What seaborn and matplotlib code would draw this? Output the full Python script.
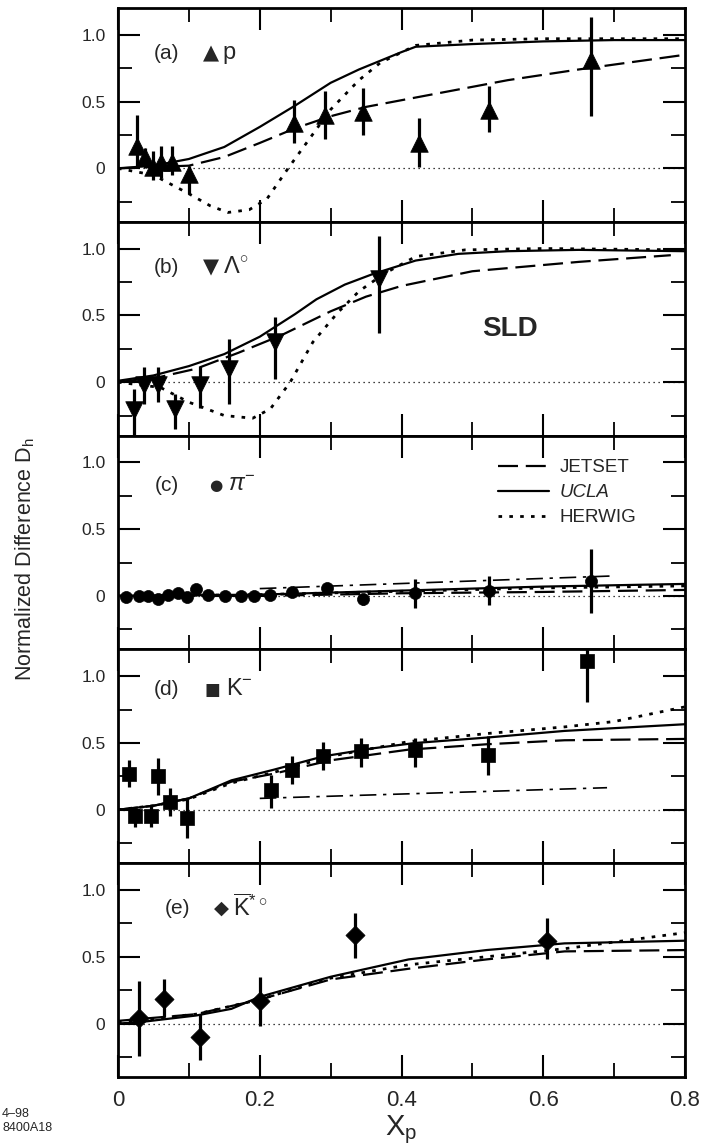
import numpy as np
import pandas as pd
import matplotlib
matplotlib.use("Agg")
import matplotlib.pyplot as plt
import seaborn as sns
from matplotlib.ticker import FixedLocator, MultipleLocator
from matplotlib.lines import Line2D

# ---------------- data ----------------
# panel (a) protons
a_x = [0.027, 0.038, 0.049, 0.060, 0.076, 0.100, 0.249, 0.292, 0.346, 0.425, 0.524, 0.667]
a_y = [0.17, 0.085, 0.01, 0.05, 0.05, -0.04, 0.34, 0.40, 0.425, 0.19, 0.44, 0.81]
a_hi = [0.40, 0.15, 0.13, 0.17, 0.17, 0.02, 0.51, 0.58, 0.60, 0.38, 0.62, 1.13]
a_lo = [0.00, 0.00, -0.09, -0.07, -0.05, -0.19, 0.19, 0.22, 0.25, 0.01, 0.27, 0.39]
a_ucla_x = [0, 0.05, 0.10, 0.15, 0.20, 0.25, 0.30, 0.34, 0.40, 0.42, 0.50, 0.60, 0.70, 0.80]
a_ucla_y = [0, 0.02, 0.07, 0.16, 0.31, 0.47, 0.64, 0.74, 0.87, 0.91, 0.93, 0.95, 0.96, 0.96]
a_jet_x = [0, 0.10, 0.15, 0.20, 0.25, 0.30, 0.35, 0.45, 0.55, 0.65, 0.80]
a_jet_y = [0, 0.02, 0.085, 0.19, 0.30, 0.39, 0.46, 0.56, 0.66, 0.74, 0.85]
a_her_x = [0, 0.05, 0.10, 0.13, 0.155, 0.185, 0.21, 0.24, 0.27, 0.30, 0.34, 0.37, 0.42, 0.50, 0.60, 0.80]
a_her_y = [0, -0.05, -0.19, -0.28, -0.33, -0.31, -0.23, 0.0, 0.22, 0.44, 0.66, 0.79, 0.92, 0.96, 0.97, 0.97]

# panel (b) Lambda
b_x = [0.022, 0.037, 0.057, 0.081, 0.115, 0.157, 0.222, 0.368]
b_y = [-0.21, -0.025, -0.025, -0.20, -0.025, 0.10, 0.30, 0.77]
b_hi = [-0.05, 0.11, 0.11, -0.09, 0.12, 0.32, 0.49, 1.09]
b_lo = [-0.40, -0.16, -0.15, -0.35, -0.19, -0.16, 0.02, 0.37]
b_ucla_x = [0, 0.05, 0.10, 0.15, 0.20, 0.25, 0.28, 0.32, 0.36, 0.42, 0.48, 0.55, 0.65, 0.80]
b_ucla_y = [0.01, 0.05, 0.12, 0.21, 0.34, 0.51, 0.62, 0.73, 0.81, 0.91, 0.96, 0.98, 0.99, 0.98]
b_jet_x = [0, 0.06, 0.11, 0.17, 0.23, 0.30, 0.35, 0.40, 0.50, 0.65, 0.78]
b_jet_y = [0, 0.04, 0.10, 0.22, 0.35, 0.53, 0.64, 0.72, 0.83, 0.90, 0.95]
b_her_x = [0, 0.06, 0.10, 0.15, 0.19, 0.215, 0.243, 0.275, 0.31, 0.34, 0.375, 0.42, 0.49, 0.60, 0.80]
b_her_y = [0, -0.04, -0.15, -0.25, -0.27, -0.20, 0.0, 0.30, 0.52, 0.68, 0.81, 0.94, 0.99, 1.0, 0.99]

# panel (c) pi-
c_x = [0.011, 0.030, 0.043, 0.057, 0.070, 0.084, 0.097, 0.110, 0.127, 0.151, 0.173, 0.192,
       0.214, 0.246, 0.295, 0.346, 0.419, 0.524, 0.667]
c_y = [-0.01, 0.0, 0.0, -0.02, 0.01, 0.02, -0.01, 0.05, 0.01, 0.0, 0.0, 0.0,
       0.01, 0.03, 0.06, -0.025, 0.02, 0.04, 0.11]
c_err = [0.01, 0.01, 0.01, 0.01, 0.01, 0.01, 0.01, 0.01, 0.01, 0.02, 0.02, 0.02,
         0.03, 0.03, 0.04, 0.04, 0.11, 0.11, 0.24]
c_ucla_x = [0, 0.2, 0.4, 0.6, 0.8]
c_ucla_y = [0, 0.01, 0.04, 0.07, 0.09]
c_jet_x = [0, 0.2, 0.4, 0.6, 0.8]
c_jet_y = [0, 0.0, 0.02, 0.03, 0.045]
c_her_x = [0, 0.2, 0.4, 0.6, 0.8]
c_her_y = [0, 0.01, 0.035, 0.06, 0.075]
c_dd_x = [0.20, 0.70]
c_dd_y = [0.055, 0.15]

# panel (d) K-
d_x = [0.016, 0.024, 0.046, 0.057, 0.073, 0.097, 0.216, 0.246, 0.289, 0.343, 0.419, 0.522, 0.662]
d_y = [0.27, -0.05, -0.05, 0.25, 0.06, -0.065, 0.15, 0.30, 0.40, 0.44, 0.45, 0.41, 1.11]
d_hi = [0.37, 0.01, 0.035, 0.39, 0.16, 0.085, 0.26, 0.40, 0.51, 0.54, 0.54, 0.55, 1.20]
d_lo = [0.17, -0.13, -0.13, 0.11, -0.05, -0.215, 0.01, 0.19, 0.30, 0.32, 0.32, 0.26, 0.81]
d_ucla_x = [0, 0.05, 0.10, 0.16, 0.22, 0.29, 0.36, 0.42, 0.52, 0.63, 0.80]
d_ucla_y = [0, 0.03, 0.085, 0.22, 0.30, 0.40, 0.46, 0.50, 0.54, 0.59, 0.64]
d_jet_x = [0, 0.05, 0.10, 0.16, 0.22, 0.30, 0.41, 0.52, 0.63, 0.80]
d_jet_y = [0, 0.03, 0.085, 0.21, 0.27, 0.37, 0.45, 0.49, 0.52, 0.53]
d_her_x = [0, 0.05, 0.10, 0.16, 0.22, 0.30, 0.41, 0.52, 0.63, 0.70, 0.80]
d_her_y = [0, 0.03, 0.08, 0.20, 0.28, 0.40, 0.51, 0.57, 0.62, 0.66, 0.77]
d_dd_x = [0.20, 0.69]
d_dd_y = [0.085, 0.165]

# panel (e) anti-K*0
e_x = [0.030, 0.065, 0.116, 0.200, 0.335, 0.605]
e_y = [0.04, 0.18, -0.10, 0.17, 0.66, 0.62]
e_hi = [0.32, 0.33, 0.07, 0.35, 0.83, 0.79]
e_lo = [-0.24, 0.05, -0.27, -0.02, 0.49, 0.48]
e_ucla_x = [0, 0.03, 0.11, 0.16, 0.20, 0.30, 0.41, 0.52, 0.63, 0.80]
e_ucla_y = [0, 0.01, 0.06, 0.11, 0.20, 0.35, 0.48, 0.55, 0.60, 0.62]
e_jet_x = [0, 0.11, 0.20, 0.30, 0.41, 0.52, 0.63, 0.80]
e_jet_y = [0.02, 0.07, 0.18, 0.33, 0.41, 0.48, 0.54, 0.55]
e_her_x = [0, 0.11, 0.20, 0.30, 0.41, 0.52, 0.63, 0.70, 0.80]
e_her_y = [0.01, 0.07, 0.18, 0.34, 0.44, 0.50, 0.56, 0.61, 0.68]

x_ticks = [0, 0.2, 0.4, 0.6, 0.8]
x_tick_labels = ["0", "0.2", "0.4", "0.6", "0.8"]
y_ticks = [0, 0.5, 1.0]
y_tick_labels = ["0", "0.5", "1.0"]
legend_labels = ["JETSET", "UCLA", "HERWIG"]

# ---------------- style ----------------
sns.set_theme(style="white")
plt.rcParams['font.family'] = ['Liberation Sans', 'DejaVu Sans']
plt.rcParams['mathtext.fontset'] = 'custom'
plt.rcParams['mathtext.rm'] = 'Liberation Sans'
plt.rcParams['mathtext.it'] = 'Liberation Sans:italic'
plt.rcParams['mathtext.bf'] = 'Liberation Sans:bold'

DASH = (0, (9, 3.5))
DOT = (0, (1.3, 2.6))
ZERO = (0, (1, 3))
DASHDOT = (0, (10, 4, 2, 4))

fig = plt.figure(figsize=(7.09, 11.46), dpi=100)
left, right = 118 / 709, 685 / 709
top, bottom = 1 - 8 / 1146, 1 - 1077 / 1146
h = (top - bottom) / 5

panels = [
    dict(tag="(a)", sym="\u25B2", sym_fs=15, name="p", x=a_x, y=a_y, hi=a_hi, lo=a_lo, marker="^",
         ucla=(a_ucla_x, a_ucla_y), jet=(a_jet_x, a_jet_y), her=(a_her_x, a_her_y), dd=None,
         ly=0.86, lx=(0.050, 0.120, 0.148)),
    dict(tag="(b)", sym="\u25BC", sym_fs=15, name=r"$\Lambda^{\circ}$", x=b_x, y=b_y, hi=b_hi, lo=b_lo, marker="v",
         ucla=(b_ucla_x, b_ucla_y), jet=(b_jet_x, b_jet_y), her=(b_her_x, b_her_y), dd=None,
         ly=0.86, lx=(0.050, 0.120, 0.148)),
    dict(tag="(c)", sym="\u25CF", sym_fs=11, name=r"$\pi^{-}$", x=c_x, y=c_y,
         hi=[v + e for v, e in zip(c_y, c_err)], lo=[v - e for v, e in zip(c_y, c_err)], marker="o",
         ucla=(c_ucla_x, c_ucla_y), jet=(c_jet_x, c_jet_y), her=(c_her_x, c_her_y), dd=(c_dd_x, c_dd_y),
         ly=0.83, lx=(0.052, 0.128, 0.155)),
    dict(tag="(d)", sym="\u25A0", sym_fs=12, name=r"$\mathrm{K}^{-}$", x=d_x, y=d_y, hi=d_hi, lo=d_lo, marker="s",
         ucla=(d_ucla_x, d_ucla_y), jet=(d_jet_x, d_jet_y), her=(d_her_x, d_her_y), dd=(d_dd_x, d_dd_y),
         ly=0.90, lx=(0.050, 0.122, 0.152)),
    dict(tag="(e)", sym="\u25C6", sym_fs=14, name=r"$\overline{\mathrm{K}}^{*\circ}$", x=e_x, y=e_y, hi=e_hi, lo=e_lo, marker="D",
         ucla=(e_ucla_x, e_ucla_y), jet=(e_jet_x, e_jet_y), her=(e_her_x, e_her_y), dd=None,
         ly=0.86, lx=(0.066, 0.135, 0.162)),
]

marker_size = {"^": 160, "v": 160, "o": 75, "s": 110, "D": 95}

axes = []
for i, p in enumerate(panels):
    ax = fig.add_axes([left, top - (i + 1) * h, right - left, h])
    axes.append(ax)
    # zero reference line
    sns.lineplot(x=[0, 0.8], y=[0, 0], ax=ax, color="black", lw=0.9, linestyle=ZERO, estimator=None)
    sns.lineplot(x=p["ucla"][0], y=p["ucla"][1], ax=ax, color="black", lw=1.6, estimator=None)
    sns.lineplot(x=p["jet"][0], y=p["jet"][1], ax=ax, color="black", lw=1.6, linestyle=DASH, estimator=None)
    sns.lineplot(x=p["her"][0], y=p["her"][1], ax=ax, color="black", lw=2.0, linestyle=DOT, estimator=None)
    if p["dd"] is not None:
        sns.lineplot(x=p["dd"][0], y=p["dd"][1], ax=ax, color="black", lw=1.2, linestyle=DASHDOT, estimator=None)
    yv = np.array(p["y"])
    ax.errorbar(p["x"], yv, yerr=[yv - np.array(p["lo"]), np.array(p["hi"]) - yv],
                fmt="none", ecolor="black", elinewidth=2.3, capsize=0, zorder=4)
    sns.scatterplot(x=p["x"], y=p["y"], ax=ax, marker=p["marker"], s=marker_size[p["marker"]],
                    color="black", edgecolor="black", linewidth=0.5, zorder=5)

    ax.set_xlim(0, 0.8)
    ax.set_ylim(-0.4, 1.2)
    ax.xaxis.set_major_locator(FixedLocator(x_ticks))
    ax.xaxis.set_minor_locator(MultipleLocator(0.1))
    ax.yaxis.set_major_locator(FixedLocator(y_ticks))
    ax.yaxis.set_minor_locator(MultipleLocator(0.25))
    ax.set_yticklabels(y_tick_labels)
    ax.tick_params(axis="both", which="both", direction="in", top=True, right=True,
                   bottom=True, left=True, color="black")
    ax.tick_params(axis="both", which="major", length=16, width=1.5)
    ax.tick_params(axis="both", which="minor", length=10, width=1.3)
    ax.tick_params(axis="y", which="major", labelsize=12.5, pad=9)
    if i < 4:
        ax.tick_params(axis="x", labelbottom=False)
    else:
        ax.set_xticklabels(x_tick_labels)
        ax.tick_params(axis="x", which="major", labelsize=16, pad=9)
    for s in ax.spines.values():
        s.set_linewidth(2.0)
        s.set_color("black")
    ax.set_xlabel("")
    ax.set_ylabel("")

    # panel annotation
    ax.text(p["lx"][0], p["ly"], p["tag"], fontsize=15, va="center", ha="left")
    ax.text(p["lx"][1], p["ly"], p["sym"], fontsize=p["sym_fs"], va="center", ha="left",
            family="DejaVu Sans")
    ax.text(p["lx"][2], p["ly"], p["name"], fontsize=17, va="center", ha="left")

# SLD label in (b)
axes[1].text(0.553, 0.40, "SLD", fontsize=20, fontweight="bold", ha="center", va="center")

# legend in (c)
handles = [Line2D([], [], color="black", lw=1.6, linestyle=DASH),
           Line2D([], [], color="black", lw=1.6),
           Line2D([], [], color="black", lw=2.0, linestyle=DOT)]
leg = axes[2].legend(handles, legend_labels, loc="upper left", bbox_to_anchor=(0.67, 0.89),
                     frameon=False, fontsize=13.5, handlelength=2.7, handletextpad=0.6,
                     labelspacing=0.42, borderpad=0, borderaxespad=0)
leg.get_texts()[1].set_style("italic")

# axis labels
fig.text(0.035, 0.512, r"Normalized Difference D$_\mathrm{h}$", rotation=90,
         ha="center", va="center", fontsize=15.5)
axes[4].set_xlabel(r"X$_\mathrm{p}$", fontsize=21, labelpad=2)
fig.text(0.003, 1 - 1114 / 1146, "4\u201398", fontsize=9, ha="left", va="center")
fig.text(0.003, 1 - 1128 / 1146, "8400A18", fontsize=9, ha="left", va="center")

fig.savefig("out.png", dpi=100)
